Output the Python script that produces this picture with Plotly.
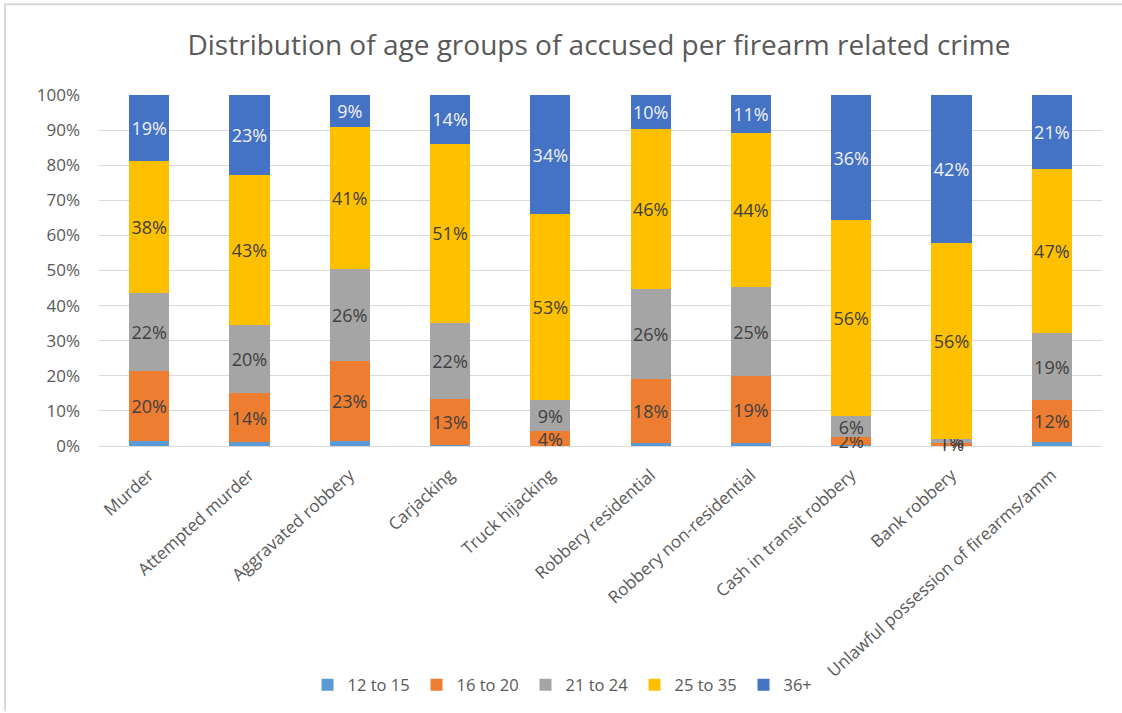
import plotly.graph_objects as go

# Crime categories (x axis)
crimes = [
    "Murder",
    "Attempted murder",
    "Aggravated robbery",
    "Carjacking",
    "Truck hijacking",
    "Robbery residential",
    "Robbery non-residential",
    "Cash in transit robbery",
    "Bank robbery",
    "Unlawful possession of firearms/amm",
]

# Share of accused (%) in each age group, per crime
age_12_15 = [1.5, 1.0, 1.4, 0.3, 0.0, 0.9, 0.8, 0.3, 0.0, 1.0]
age_16_20 = [20.0, 14.0, 22.8, 13.0, 4.2, 18.2, 19.1, 2.2, 0.9, 12.0]
age_21_24 = [22.0, 19.6, 26.1, 21.7, 8.8, 25.6, 25.3, 6.0, 1.1, 19.1]
age_25_35 = [37.8, 42.6, 40.6, 51.1, 53.1, 45.7, 44.1, 55.8, 55.9, 46.8]
age_36_plus = [18.7, 22.8, 9.1, 13.9, 33.9, 9.6, 10.7, 35.7, 42.1, 21.1]

# Y axis ticks
y_ticks = [0, 10, 20, 30, 40, 50, 60, 70, 80, 90, 100]
y_tick_labels = [f"{v}%" for v in y_ticks]

series = [
    ("12 to 15", age_12_15, "#5B9BD5", False, "#404040"),
    ("16 to 20", age_16_20, "#ED7D31", True, "#404040"),
    ("21 to 24", age_21_24, "#A5A5A5", True, "#404040"),
    ("25 to 35", age_25_35, "#FFC000", True, "#404040"),
    ("36+", age_36_plus, "#4472C4", True, "#F2F2F2"),
]

FONT = "Open Sans"
GREY = "#595959"

fig = go.Figure()
for name, values, color, labelled, label_color in series:
    labels = [f"{round(v)}%" for v in values] if labelled else None
    fig.add_trace(go.Bar(
        name=name,
        x=crimes,
        y=values,
        marker=dict(color=color, line=dict(width=0)),
        text=labels,
        textposition="inside" if labelled else "none",
        insidetextanchor="middle",
        constraintext="none",
        textangle=0,
        textfont=dict(family=FONT, size=18, color=label_color),
        cliponaxis=False,
    ))

# Thin grey frame on the top and left edges of the chart area
W, H = 1122, 713
L, R, T, B = 99, 20, 95, 266
pw, ph = W - L - R, H - T - B


def px_x(x):
    return (x - L) / pw


def px_y(y):
    return (H - B - y) / ph


fig.add_shape(type="line", xref="paper", yref="paper",
              x0=px_x(4), x1=px_x(W), y0=px_y(4), y1=px_y(4),
              line=dict(color="#D9D9D9", width=2))
fig.add_shape(type="line", xref="paper", yref="paper",
              x0=px_x(5), x1=px_x(5), y0=px_y(4), y1=px_y(H),
              line=dict(color="#D9D9D9", width=2))

fig.update_layout(
    width=W,
    height=H,
    margin=dict(l=L, r=R, t=T, b=B),
    paper_bgcolor="white",
    plot_bgcolor="white",
    barmode="stack",
    bargap=0.6,
    font=dict(family=FONT, color=GREY),
    title=dict(
        text="Distribution of age groups of accused per firearm related crime",
        font=dict(family=FONT, size=28, color=GREY),
        xref="container", x=599 / W, xanchor="center",
        yref="container", y=(H - 45) / H, yanchor="middle",
    ),
    legend=dict(
        orientation="h",
        x=px_x(580), xanchor="center",
        y=px_y(685), yanchor="middle",
        bgcolor="rgba(0,0,0,0)",
        font=dict(family=FONT, size=16.5, color=GREY),
        itemwidth=30,
        entrywidth=64,
        entrywidthmode="pixels",
        traceorder="normal",
    ),
    xaxis=dict(
        tickangle=-42,
        tickfont=dict(family=FONT, size=17, color=GREY),
        showline=False,
        ticks="",
        ticklabelstandoff=15,
    ),
    yaxis=dict(
        # a hair above 100 so stacks that sum to 100 in floating point stay in range
        range=[0, 100.01],
        tickmode="array",
        tickvals=y_ticks,
        ticktext=y_tick_labels,
        tickfont=dict(family=FONT, size=17, color=GREY),
        showgrid=True,
        gridcolor="#D9D9D9",
        gridwidth=1,
        zeroline=True,
        zerolinecolor="#D9D9D9",
        zerolinewidth=1,
        showline=False,
        ticks="",
        ticklabelstandoff=18,
    ),
)

fig.write_html("out.html")
